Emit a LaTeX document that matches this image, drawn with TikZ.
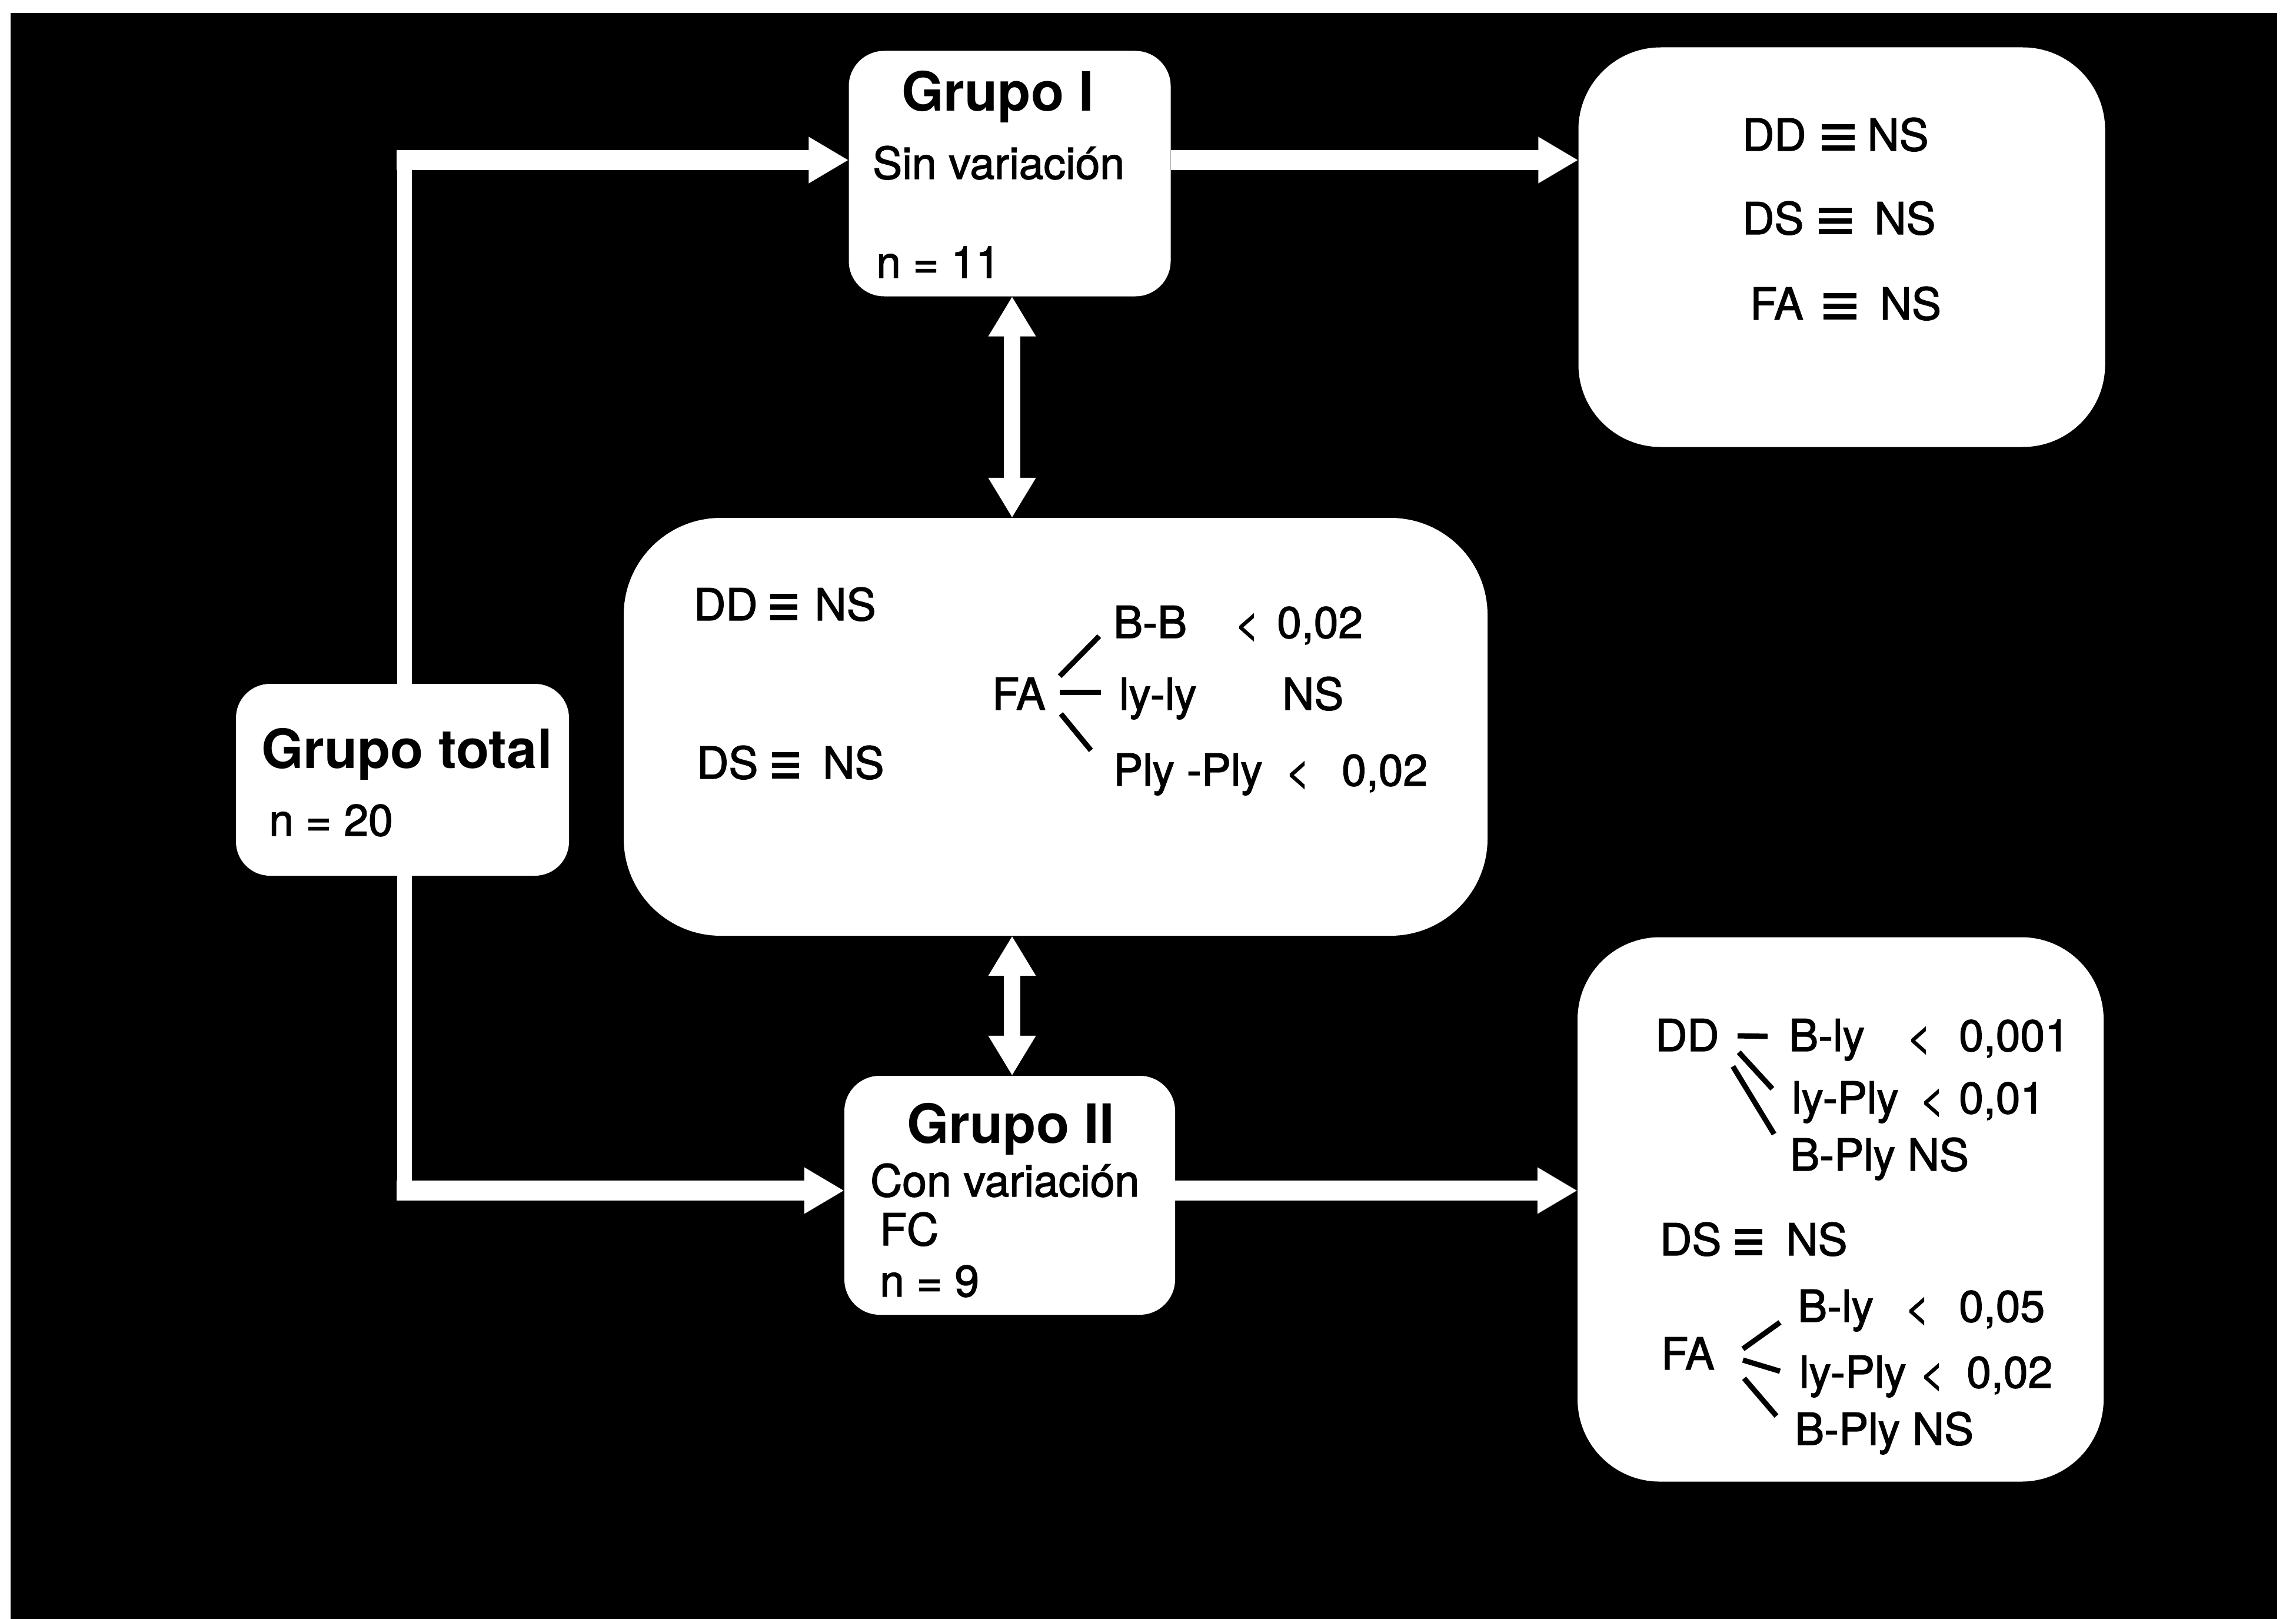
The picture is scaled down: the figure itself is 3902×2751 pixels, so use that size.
\documentclass[tikz,border=0pt]{standalone}
\usepackage{fontspec}
\setmainfont{TeX Gyre Heros}
\newfontfamily\bodyfont{TeX Gyre Heros}[FakeBold=1.8]
\usetikzlibrary{arrows.meta,calc}

% three heavy bars used as the equivalence sign
\newcommand\myeqv[1][46pt]{\vbox{\hrule width #1 height 9pt depth 0pt\vskip 9pt
  \hrule width #1 height 9pt depth 0pt\vskip 9pt
  \hrule width #1 height 9pt depth 0pt}}
% "less than" sign
\newcommand\mylt{{\fontsize{72}{75}\selectfont <}}

\tikzset{
  panel/.style={fill=white, draw=none, rounded corners=#1, inner sep=0pt},
  txt/.style={anchor=base west, inner sep=0pt, text=black,
    font=\bodyfont\fontsize{75}{80}\selectfont},
  ttl/.style={anchor=base west, inner sep=0pt, text=black,
    font=\fontsize{92}{96}\selectfont\bfseries},
  hflow/.style={draw=white, line width=34pt,
    -{Triangle[length=68pt,width=74pt]}},
  vflow/.style={draw=white, line width=25pt},
  both/.style={draw=white, line width=28pt,
    {Triangle[length=68pt,width=76pt]}-{Triangle[length=68pt,width=76pt]}},
  tick/.style={draw=black, line width=9pt},
}

\begin{document}
\begin{tikzpicture}[x=1pt,y=-1pt]
\useasboundingbox (0,0) rectangle (3902,2751);
\fill[black] (18,22) rectangle (3870,2751);

% boxes
\node[panel=60pt,  minimum width=547pt,  minimum height=417pt] (gI)     at (1716,295)  {};
\node[panel=140pt, minimum width=895pt,  minimum height=679pt] (res1)   at (3130,420)  {};
\node[panel=165pt, minimum width=1468pt, minimum height=710pt] (center) at (1794,1235) {};
\node[panel=58pt,  minimum width=566pt,  minimum height=326pt] (total)  at (684,1325)  {};
\node[panel=60pt,  minimum width=562pt,  minimum height=406pt] (gII)    at (1716,2031) {};
\node[panel=140pt, minimum width=894pt,  minimum height=925pt] (res2)   at (3128,2055) {};

% routing points
\coordinate (vx)  at (687,0);
\coordinate (ax)  at (1720,0);
\coordinate (upY) at (0,272);
\coordinate (loY) at (0,2023);
\coordinate (cUp) at (674,272);
\coordinate (cLo) at (674,2023);

% connectors
\draw[vflow] (vx |- total.north) -- (vx |- upY);
\draw[hflow] (cUp) -- (gI.west |- upY);
\draw[vflow] (vx |- total.south) -- (vx |- loY);
\draw[hflow] (cLo) -- (gII.west |- loY);
\draw[hflow] (gI.east |- upY) -- (res1.west |- upY);
\draw[hflow] (gII.east |- loY) -- (res2.west |- loY);
\draw[both] (gI.south -| ax) -- (center.north -| ax);
\draw[both] (center.south -| ax) -- (gII.north -| ax);

% Grupo I
\node[ttl] (gIa) at (1532,188) {Grupo I};
\node[txt] (gIb) at (1483,304) {Sin variación};
\node[txt] (gIc) at (1489,472) {n = 11};

% results of Grupo I
\node[txt] (r1a) at (2961,256) {DD\hspace{26pt}\myeqv[56pt]\hspace{22pt}NS};
\node[txt] (r1b) at (2961,398) {DS\hspace{26pt}\myeqv[56pt]\hspace{38pt}NS};
\node[txt] (r1c) at (2974,543) {FA\hspace{34pt}\myeqv[56pt]\hspace{40pt}NS};

% comparison between groups
\node[txt] (c1)  at (1179,1054) {DD\hspace{21pt}\myeqv\hspace{30pt}NS};
\node[txt] (c2)  at (1184,1323) {DS\hspace{24pt}\myeqv\hspace{40pt}NS};
\node[txt] (c3)  at (1686,1206) {FA};
\node[txt] (c4)  at (1892,1084) {B-B};
\node[txt] (c4b) at (2098,1084) {\mylt};
\node[txt] (c4c) at (2170,1084) {0,02};
\node[txt] (c5)  at (1902,1206) {ly-ly};
\node[txt] (c5b) at (2179,1206) {NS};
\node[txt] (c6)  at (1892,1335) {Ply -Ply};
\node[txt] (c6b) at (2184,1335) {\mylt};
\node[txt] (c6c) at (2280,1335) {0,02};
\draw[tick] (1801,1149) -- (1868,1081);
\draw[tick] (1801,1176) -- (1871,1176);
\draw[tick] (1803,1213) -- (1854,1275);

% Grupo total
\node[ttl] (tt1) at (444,1305) {Grupo total};
\node[txt] (tt2) at (457,1420) {n = 20};

% Grupo II
\node[ttl] (g1) at (1541,1942) {Grupo II};
\node[txt] (g2) at (1479,2033) {Con variación};
\node[txt] (g3) at (1495,2116) {FC};
\node[txt] (g4) at (1495,2203) {n = 9};

% results of Grupo II
\node[txt] (d1)  at (2813,1786) {DD};
\node[txt] (d1a) at (3040,1786) {B-ly};
\node[txt] (d1b) at (3240,1786) {\mylt};
\node[txt] (d1c) at (3329,1786) {0,001};
\draw[tick] (2953,1760) -- (3004,1761);
\draw[tick] (2955,1788) -- (3012,1850);
\draw[tick] (2945,1812) -- (3015,1927);
\node[txt] (d2)  at (3045,1892) {ly-Ply};
\node[txt] (d2b) at (3262,1892) {\mylt};
\node[txt] (d2c) at (3329,1892) {0,01};
\node[txt] (d3)  at (3042,1989) {B-Ply NS};
\node[txt] (d4)  at (2821,2133) {DS\hspace{24pt}\myeqv\hspace{40pt}NS};
\node[txt] (d5)  at (3055,2246) {B-ly};
\node[txt] (d5b) at (3237,2246) {\mylt};
\node[txt] (d5c) at (3329,2246) {0,05};
\node[txt] (d6)  at (2823,2327) {FA};
\draw[tick] (2962,2292) -- (3025,2247);
\draw[tick] (2962,2311) -- (3025,2330);
\draw[tick] (2964,2342) -- (3019,2406);
\node[txt] (d7)  at (3058,2358) {ly-Ply};
\node[txt] (d7b) at (3262,2358) {\mylt};
\node[txt] (d7c) at (3342,2358) {0,02};
\node[txt] (d8)  at (3050,2455) {B-Ply NS};
\end{tikzpicture}
\end{document}
